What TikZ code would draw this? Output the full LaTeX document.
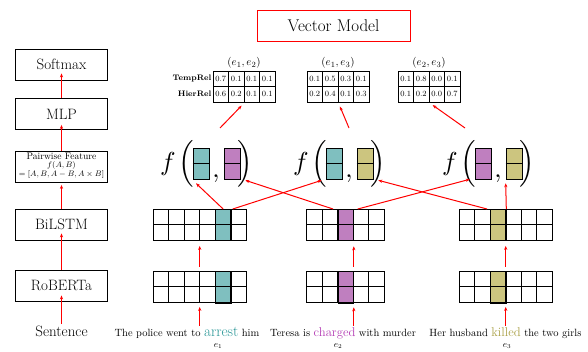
\documentclass[tikz,border=0pt]{standalone}
\usepackage{graphicx}
\usetikzlibrary{arrows.meta,calc}
\definecolor{tealc}{RGB}{127,191,191}
\definecolor{pinkc}{RGB}{191,127,191}
\definecolor{olivec}{RGB}{204,197,127}
\definecolor{tealt}{RGB}{40,150,150}
\definecolor{pinkt}{RGB}{180,60,180}
\definecolor{olivet}{RGB}{170,160,70}
\definecolor{arrowred}{RGB}{255,0,0}
\tikzset{
  layerbox/.style={draw, line width=0.8pt, minimum width=92pt, minimum height=31pt, inner sep=0pt, font=\fontsize{15}{18}\selectfont},
  redarrow/.style={draw=arrowred, line width=1pt, -{Stealth[length=4pt,width=3.2pt,fill=arrowred]}},
  gridline/.style={line width=0.8pt},
  colcell/.style={draw, line width=0.8pt, minimum width=15.5pt, minimum height=31.5pt, inner sep=0pt},
  sqbox/.style={draw, line width=0.6pt, minimum width=16pt, minimum height=31pt, inner sep=0pt},
  glyph/.style={inner sep=0pt},
  tablebox/.style={draw, line width=0.8pt, minimum width=62pt, minimum height=31pt, inner sep=0pt},
  cellnum/.style={inner sep=0pt, font=\fontsize{8}{9}\selectfont},
  rowlabel/.style={inner sep=0pt, font=\fontsize{8}{9}\selectfont\bfseries},
  pairlabel/.style={inner sep=0pt, font=\fontsize{11}{12}\selectfont},
  sentfont/.style={inner sep=1pt, font=\fontsize{10.5}{12}\selectfont},
  entlabel/.style={inner sep=0pt, font=\fontsize{9}{10}\selectfont},
}
\newcommand{\embgrid}[6]{%
  \node[colcell, fill=#5, anchor=north west] (#6c) at ({#1+(#4-1)*15.5},#2) {};
  \foreach \k in {1,...,#3} {
    \draw[gridline] ({#1+(\k-1)*15.5},#2) rectangle ++(15.5,15.75);
    \draw[gridline] ({#1+(\k-1)*15.5},{#2+15.75}) rectangle ++(15.5,15.75);
  }
  \node[inner sep=0pt, minimum width={#3*15.5pt}, minimum height=31.5pt, anchor=north west] (#6) at (#1,#2) {};
}
\newcommand{\fexpr}[4]{%
  \node[glyph, anchor=base] (#4f) at ({#1-33},170.5) {\scalebox{2.6}{$f$}};
  \node[glyph] (#4l) at ({#1-14.5},163.5) {\scalebox{2.6}{$\Big($}};
  \node[sqbox, fill=#2] (#41) at (#1,163.5) {};
  \draw[line width=0.6pt] (#41.west) -- (#41.east);
  \node[glyph, anchor=base] (#4c) at ({#1+15},177.5) {\scalebox{2.6}{$,$}};
  \node[sqbox, fill=#3] (#42) at ({#1+31},163.5) {};
  \draw[line width=0.6pt] (#42.west) -- (#42.east);
  \node[glyph] (#4r) at ({#1+44},163.5) {\scalebox{2.6}{$\Big)$}};
}
\newcommand{\reltable}[5]{%
  \node[tablebox, anchor=north west] (#2) at (#1,71) {};
  \foreach \v [count=\i] in {#4} \node[cellnum] (#2a\i) at ({#1+(\i-0.5)*15.5},78.75) {\v};
  \foreach \v [count=\i] in {#5} \node[cellnum] (#2b\i) at ({#1+(\i-0.5)*15.5},94.25) {\v};
  \foreach \i in {1,2,3} \draw[gridline] ({#1+\i*15.5},71) -- ({#1+\i*15.5},102);
  \draw[gridline] (#1,86.5) -- ({#1+62},86.5);
  \node[pairlabel] (#2l) at ({#1+31},63) {#3};
}
\begin{document}
\begin{tikzpicture}[x=1pt,y=-1pt]
\useasboundingbox (0,0) rectangle (588,352);

% title
\node[draw=arrowred, line width=0.8pt, minimum width=153pt, minimum height=31pt, inner sep=0pt, font=\fontsize{17}{20}\selectfont] (vm) at (333.5,25.5) {Vector Model};

% left column
\node[layerbox] (soft) at (61.5,64.5) {Softmax};
\node[layerbox] (mlp) at (61.5,114) {MLP};
\node[layerbox] (pair) at (61.5,167) {};
\node[inner sep=0pt, anchor=base, font=\fontsize{9.6}{10}\selectfont] (pt1) at (61.5,160) {Pairwise Feature};
\node[inner sep=0pt, anchor=base, font=\fontsize{8.5}{9}\selectfont] (pt2) at (61.5,168) {$f(A,B)$};
\node[inner sep=0pt, anchor=base, font=\fontsize{8.2}{9}\selectfont] (pt3) at (61.5,177) {$=[A,B,A-B,A\times B]$};
\node[layerbox] (bil) at (61.5,224.5) {BiLSTM};
\node[layerbox] (rob) at (61.5,285.5) {RoBERTa};
\node[inner sep=2pt, anchor=base, font=\fontsize{15}{18}\selectfont] (sent) at (61.5,336.7) {Sentence};

\draw[redarrow, shorten >=-6pt] (sent.north) -- (rob.south);
\draw[redarrow, shorten >=-7pt] (rob.north) -- (bil.south);
\draw[redarrow, shorten >=2pt] (bil.north) -- (pair.south);
\draw[redarrow, shorten >=-5pt] (pair.north) -- (mlp.south);
\draw[redarrow, shorten >=-7pt] (mlp.north) -- (soft.south);

% tables
\reltable{213}{ta}{$(e_1,e_2)$}{0.7,0.1,0.1,0.1}{0.6,0.2,0.1,0.1}
\reltable{307}{tb}{$(e_1,e_3)$}{0.1,0.5,0.3,0.1}{0.2,0.4,0.1,0.3}
\reltable{398}{tc}{$(e_2,e_3)$}{0.1,0.8,0.0,0.1}{0.1,0.2,0.0,0.7}
\node[rowlabel, anchor=east] (lt) at (211.5,78.75) {TempRel};
\node[rowlabel, anchor=east] (lh) at (211.5,94.25) {HierRel};

% pairwise functions
\fexpr{201}{tealc}{pinkc}{fa}
\fexpr{334}{tealc}{olivec}{fb}
\fexpr{483}{pinkc}{olivec}{fc}

\coordinate (ua) at (220,128);
\coordinate (ub) at (349,128);
\coordinate (uc) at (465,128);
\draw[redarrow, shorten >=4pt] (ua) -- (ta.south);
\draw[redarrow, shorten >=4pt] (ub) -- (tb.south);
\draw[redarrow, shorten >=4pt] (uc) -- (tc.south);

% grids
\embgrid{153}{209}{6}{5}{tealc}{g1b}
\embgrid{153}{271}{6}{5}{tealc}{g1r}
\embgrid{306.5}{209}{5}{3}{pinkc}{g2b}
\embgrid{306.5}{271}{5}{3}{pinkc}{g2r}
\embgrid{459}{209}{6}{3}{olivec}{g3b}
\embgrid{459}{271}{6}{3}{olivec}{g3r}

% sentences
\node[sentfont, anchor=base] (s1) at (187,336) {The police went to {\fontsize{15}{18}\selectfont\color{tealt}arrest} him};
\node[sentfont, anchor=base] (s2) at (343,336) {Teresa is {\fontsize{12.7}{15}\selectfont\color{pinkt}charged} with murder};
\node[sentfont, anchor=base] (s3) at (505.5,336) {Her husband {\fontsize{12.7}{15}\selectfont\color{olivet}killed} the two girls};
\node[entlabel, anchor=base] (e1) at (218,347.5) {$e_1$};
\node[entlabel, anchor=base] (e2) at (338,347.5) {$e_2$};
\node[entlabel, anchor=base] (e3) at (507,347.5) {$e_3$};

% vertical arrows
\draw[redarrow, shorten >=4pt] (g1r.south |- s1.north) -- (g1r.south);
\draw[redarrow, shorten <=4pt, shorten >=5pt] (g1r.north) -- (g1b.south);
\draw[redarrow, shorten >=4pt] (g2rc.south east |- s2.north) -- (g2rc.south east);
\draw[redarrow, shorten <=4pt, shorten >=5pt] (g2rc.north east) -- (g2bc.south east);
\draw[redarrow, shorten >=4pt] (g3r.south |- s3.north) -- (g3r.south);
\draw[redarrow, shorten <=4pt, shorten >=5pt] (g3r.north) -- (g3b.south);

% cross connections
\draw[redarrow] (g1bc.north) -- ([xshift=-5pt,yshift=-4pt]fa1.south);
\draw[redarrow] ([xshift=1.5pt]g1bc.north east) -- ([xshift=-4pt,yshift=-1pt]fb1.south west);
\draw[redarrow] ([xshift=-4.5pt]g2bc.north west) -- ([xshift=5pt,yshift=-1pt]fa2.south east);
\draw[redarrow] ([xshift=4pt]g2bc.north east) -- ([xshift=-5pt]fc1.south west);
\draw[redarrow] ([xshift=-3pt]g3bc.north west) -- ([xshift=5pt,yshift=-1pt]fb2.south east);
\draw[redarrow] (g3bc.north east) -- ([yshift=-4pt]fc2.south west);
\end{tikzpicture}
\end{document}
